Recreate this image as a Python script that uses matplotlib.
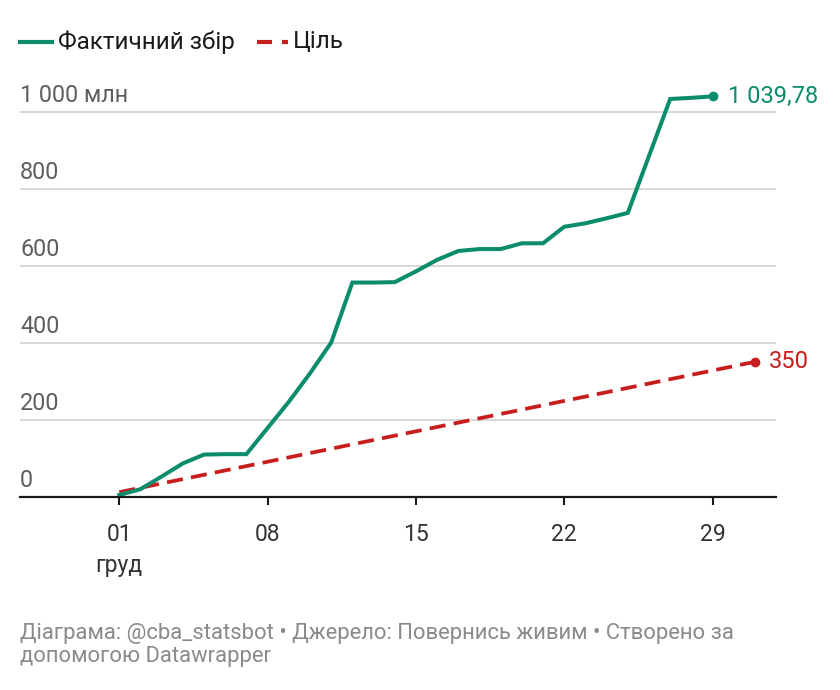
import matplotlib
matplotlib.use("Agg")
import matplotlib.pyplot as plt
from matplotlib.lines import Line2D

plt.rcParams['font.family'] = ['Roboto', 'DejaVu Sans']

# ---- data ----
days = [1, 2, 3, 4, 5, 6, 7, 8, 9, 10, 11, 12, 13, 14, 15, 16, 17, 18, 19,
        20, 21, 22, 23, 24, 25, 26, 27, 28, 29]
actual = [4, 19, 52, 86, 109, 110, 110, 178, 246, 320, 400, 556, 556, 557,
          585, 615, 638, 643, 643, 658, 658, 701, 710, 723, 737, 885, 1033,
          1036, 1039.78]
target_days = [1, 31]
target_vals = [11.3, 350]

xtick_pos = [1, 8, 15, 22, 29]
xtick_labels = ['01\nгруд', '08', '15', '22', '29']
ytick_vals = [0, 200, 400, 600, 800, 1000]
ytick_labels = ['0', '200', '400', '600', '800', '1 000 млн']

legend_labels = ['Фактичний збір', 'Ціль']
actual_label = '1 039,78'
target_label = '350'
footer = ('Діаграма: @cba_statsbot • Джерело: Повернись живим • Створено за\n'
          'допомогою Datawrapper')

GREEN = '#0b8c6d'
RED = '#c71e1d'

W, H = 840, 690
fig = plt.figure(figsize=(W / 100, H / 100), dpi=100)
ax_left, ax_right = 20, 775.7
ax_bottom, ax_top = 496.5, 73.2
ax = fig.add_axes([ax_left / W, 1 - ax_bottom / H,
                   (ax_right - ax_left) / W, (ax_bottom - ax_top) / H])
ax.set_xlim(-3.686, 31.98)
ax.set_ylim(0, 1100)

for s in ['top', 'right', 'left']:
    ax.spines[s].set_visible(False)
ax.spines['bottom'].set_color('#1a1a1a')
ax.spines['bottom'].set_linewidth(1.6)
ax.spines['bottom'].set_zorder(5)

ax.set_yticks(ytick_vals[1:])
ax.yaxis.grid(True, color='#d6d6d6', linewidth=1.3)
ax.tick_params(axis='y', length=0, labelleft=False)
ax.set_axisbelow(True)

for v, lab in zip(ytick_vals, ytick_labels):
    ax.annotate(lab, xy=(0, v), xycoords=('axes fraction', 'data'),
                xytext=(0, 7), textcoords='offset points',
                ha='left', va='baseline', fontsize=16.8, color='#5e5e5e')

ax.set_xticks(xtick_pos)
ax.set_xticklabels(xtick_labels, fontsize=16.5, color='#333333',
                   linespacing=1.45)
ax.tick_params(axis='x', length=6, width=1.5, color='#1a1a1a', pad=13)

ax.plot(target_days, target_vals, color=RED, lw=2.7,
        dashes=(4.3, 2.2), solid_capstyle='butt', zorder=3)
ax.plot(days, actual, color=GREEN, lw=2.9, solid_joinstyle='miter', zorder=4)
ax.plot([days[-1]], [actual[-1]], 'o', color=GREEN, ms=6, zorder=4)
ax.plot([target_days[-1]], [target_vals[-1]], 'o', color=RED, ms=6, zorder=4)

ax.annotate(actual_label, xy=(days[-1], actual[-1]), xytext=(11, 0),
            textcoords='offset points', ha='left', va='center',
            fontsize=17, color=GREEN)
ax.annotate(target_label, xy=(target_days[-1], target_vals[-1]),
            xytext=(10, 0), textcoords='offset points', ha='left',
            va='center', fontsize=17, color=RED)

# legend
ly = 1 - 42 / H
fig.add_artist(Line2D([20 / W, 52 / W], [ly, ly], color=GREEN, lw=3,
                      transform=fig.transFigure))
fig.text(58 / W, ly, legend_labels[0], fontsize=17.5, color='#1a1a1a',
         ha='left', va='center')
fig.add_artist(Line2D([257 / W, 288 / W], [ly, ly], color=RED, lw=3,
                      dashes=(3.6, 2.4), transform=fig.transFigure))
fig.text(293 / W, ly, legend_labels[1], fontsize=17.5, color='#1a1a1a',
         ha='left', va='center')

fig.text(20 / W, 1 - 662 / H, footer, fontsize=15.8, color='#8a8a8a',
         ha='left', va='baseline', linespacing=1.15)

fig.savefig('out.png', dpi=100)
